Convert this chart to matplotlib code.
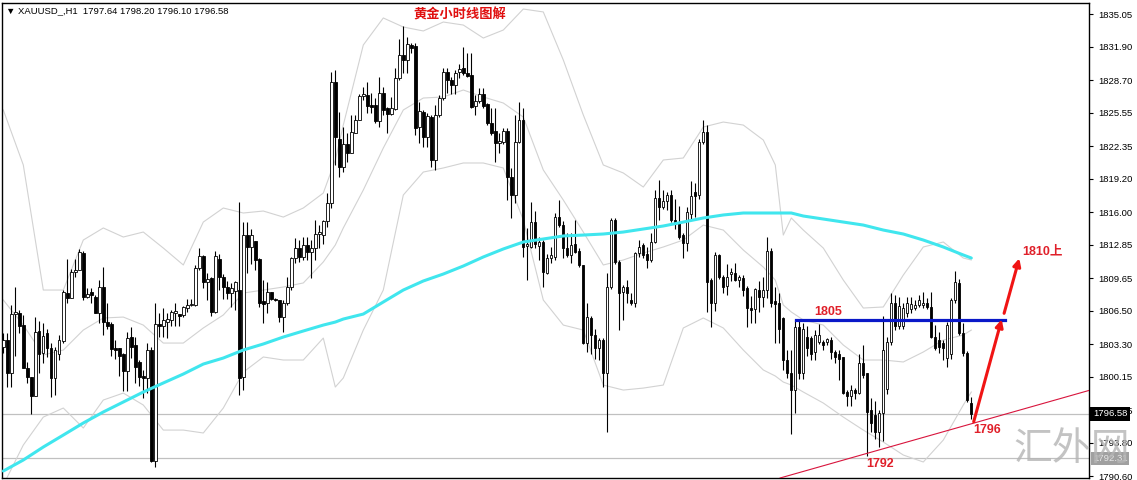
import matplotlib
matplotlib.use('Agg')
import matplotlib.pyplot as plt
import numpy as np
from matplotlib.transforms import blended_transform_factory

# ---------------- data (XAUUSD H1 candles) ----------------
opens = [
    1803.0, 1803.7, 1800.5, 1806.2, 1806.3, 1805.1, 1801.0, 1800.1, 1798.3, 1804.6,
    1802.4, 1804.4, 1802.9, 1800.0, 1802.3, 1803.6, 1808.2, 1807.7, 1810.2, 1810.4,
    1812.1, 1807.8, 1808.3, 1807.8, 1806.3, 1808.8, 1805.4, 1805.2, 1802.9, 1802.9,
    1802.3, 1800.7, 1804.0, 1803.2, 1801.6, 1800.2, 1800.0, 1802.7, 1792.1, 1805.2,
    1805.0, 1805.4, 1805.6, 1806.3, 1806.2, 1806.1, 1806.8, 1807.1, 1807.1, 1810.6,
    1811.8, 1809.3, 1809.7, 1806.4, 1811.5, 1809.8, 1808.8, 1808.2, 1808.4, 1808.5,
    1800.1, 1813.8, 1812.6, 1813.2, 1811.5, 1807.4, 1807.3, 1808.3, 1807.6, 1807.5,
    1805.9, 1807.3, 1808.8, 1811.6, 1812.5, 1811.7, 1812.8, 1812.2, 1812.5, 1813.9,
    1813.8, 1815.1, 1816.9, 1828.5, 1823.0, 1820.3, 1822.5, 1821.7, 1823.6, 1824.9,
    1827.2, 1827.3, 1826.3, 1826.3, 1824.8, 1827.5, 1826.0, 1825.4, 1825.9, 1828.9,
    1831.1, 1830.6, 1832.1, 1832.0, 1824.2, 1825.6, 1823.2, 1825.1, 1821.0, 1825.3,
    1827.0, 1829.5, 1828.7, 1828.2, 1829.5, 1829.9, 1829.4, 1829.2, 1826.2, 1826.7,
    1827.4, 1826.4, 1824.6, 1823.8, 1822.6, 1822.7, 1823.8, 1819.4, 1817.6, 1822.7,
    1824.9, 1812.7, 1812.6, 1815.0, 1812.7, 1813.1, 1810.1, 1811.6, 1811.7, 1815.5,
    1814.8, 1812.5, 1811.9, 1812.9, 1812.3, 1810.9, 1803.4, 1805.8, 1804.2, 1802.9,
    1803.7, 1800.5, 1808.8, 1815.2, 1811.2, 1808.3, 1808.8, 1807.5, 1807.3, 1812.1,
    1812.8, 1812.0, 1811.4, 1813.1, 1817.4, 1816.5, 1817.1, 1817.6, 1815.2, 1815.0,
    1813.8, 1813.0, 1815.8, 1817.9, 1817.6, 1822.7, 1823.7, 1809.5, 1807.3, 1811.9,
    1809.8, 1808.9, 1810.0, 1810.1, 1809.5, 1809.7, 1808.7, 1806.8, 1806.7, 1808.5,
    1807.8, 1808.5, 1812.3, 1807.4, 1807.3, 1805.8, 1801.8, 1800.5, 1798.9, 1804.9,
    1800.5, 1804.0, 1803.9, 1802.5, 1803.5, 1803.5, 1803.5, 1803.7, 1802.5, 1802.3,
    1802.1, 1798.7, 1798.3, 1798.9, 1798.6, 1801.5, 1800.5, 1797.0, 1796.5, 1794.8,
    1796.7, 1799.0, 1803.5, 1807.3, 1805.0, 1805.0, 1806.3, 1806.7, 1806.8, 1807.1,
    1807.1, 1807.3, 1806.9, 1804.0, 1803.7, 1803.4, 1802.0, 1802.3, 1807.5, 1809.2,
    1804.4, 1802.4, 1797.64,
]
highs = [
    1804.4, 1804.4, 1807.1, 1808.8, 1806.6, 1806.1, 1801.6, 1800.1, 1805.9, 1805.5,
    1805.3, 1804.8, 1803.4, 1803.0, 1804.2, 1808.5, 1811.5, 1810.5, 1811.5, 1812.4,
    1812.3, 1808.7, 1808.7, 1808.0, 1809.5, 1810.7, 1807.3, 1805.4, 1803.7, 1802.9,
    1802.4, 1804.5, 1804.9, 1804.0, 1801.8, 1800.8, 1803.4, 1803.0, 1807.3, 1806.3,
    1806.8, 1806.3, 1806.6, 1807.3, 1806.2, 1807.0, 1807.6, 1807.6, 1810.9, 1812.5,
    1811.9, 1810.1, 1809.8, 1812.3, 1812.0, 1810.0, 1809.4, 1809.2, 1809.4, 1817.0,
    1815.0, 1815.0, 1814.4, 1813.2, 1811.6, 1809.5, 1809.3, 1808.3, 1807.7, 1807.5,
    1807.5, 1809.8, 1811.7, 1813.5, 1813.3, 1813.6, 1813.6, 1813.3, 1815.2, 1814.8,
    1815.2, 1817.8, 1829.5, 1829.7, 1825.6, 1824.2, 1823.6, 1825.3, 1825.3, 1827.4,
    1828.0, 1828.5, 1827.5, 1827.0, 1829.0, 1828.0, 1826.1, 1827.1, 1829.9, 1832.6,
    1833.9, 1832.8, 1832.3, 1832.3, 1826.6, 1825.8, 1825.5, 1825.3, 1826.3, 1827.3,
    1829.9, 1829.9, 1829.0, 1829.7, 1830.2, 1831.9, 1831.3, 1831.3, 1827.3, 1827.9,
    1827.9, 1826.5, 1826.0, 1826.0, 1823.6, 1824.1, 1824.1, 1820.2, 1825.3, 1826.6,
    1826.0, 1814.5, 1817.0, 1816.1, 1813.6, 1813.3, 1812.0, 1812.6, 1815.9, 1817.2,
    1815.1, 1814.0, 1814.0, 1815.2, 1812.5, 1810.9, 1807.3, 1806.0, 1804.8, 1803.9,
    1803.9, 1810.1, 1815.4, 1815.4, 1811.4, 1809.0, 1809.5, 1808.2, 1812.2, 1813.3,
    1813.0, 1812.6, 1814.0, 1818.1, 1819.1, 1818.1, 1817.9, 1818.1, 1817.3, 1816.6,
    1814.0, 1816.5, 1819.0, 1818.8, 1823.0, 1824.9, 1824.4, 1809.7, 1812.2, 1812.0,
    1809.9, 1811.0, 1810.6, 1811.1, 1809.9, 1809.9, 1808.9, 1807.9, 1808.7, 1809.4,
    1809.8, 1813.6, 1812.5, 1808.8, 1808.2, 1805.9, 1802.7, 1802.7, 1805.6, 1805.6,
    1805.3, 1805.0, 1804.1, 1804.7, 1805.2, 1803.7, 1803.9, 1804.0, 1802.7, 1802.7,
    1802.1, 1798.9, 1799.4, 1799.1, 1802.3, 1803.2, 1800.5, 1798.1, 1797.8, 1797.0,
    1806.0, 1804.0, 1808.2, 1808.0, 1807.8, 1807.3, 1807.8, 1807.8, 1807.5, 1808.0,
    1808.3, 1807.7, 1808.3, 1805.1, 1804.5, 1803.7, 1805.4, 1807.7, 1810.3, 1809.6,
    1805.3, 1802.6, 1798.20,
]
lows = [
    1802.4, 1799.2, 1799.2, 1802.2, 1804.4, 1801.0, 1799.6, 1796.6, 1798.3, 1800.5,
    1801.5, 1802.1, 1798.2, 1798.4, 1801.8, 1803.4, 1807.3, 1807.7, 1809.8, 1810.4,
    1807.5, 1807.7, 1807.3, 1806.3, 1805.3, 1804.2, 1804.8, 1802.2, 1801.9, 1800.2,
    1798.8, 1798.8, 1802.0, 1799.6, 1799.3, 1798.1, 1798.6, 1792.0, 1791.5, 1804.0,
    1804.0, 1803.9, 1805.0, 1805.0, 1805.0, 1805.9, 1806.4, 1807.0, 1807.0, 1810.4,
    1808.7, 1807.5, 1806.0, 1806.3, 1808.5, 1807.6, 1807.6, 1806.9, 1806.6, 1798.4,
    1798.9, 1810.1, 1811.0, 1810.4, 1806.9, 1805.3, 1806.3, 1807.5, 1807.4, 1805.4,
    1804.5, 1807.1, 1808.5, 1811.1, 1811.2, 1811.4, 1811.4, 1809.7, 1811.4, 1812.5,
    1812.9, 1814.6, 1816.4, 1820.5, 1819.4, 1819.9, 1820.8, 1821.7, 1823.6, 1824.9,
    1826.8, 1825.5, 1825.5, 1824.6, 1824.2, 1825.3, 1823.6, 1825.3, 1825.8, 1828.7,
    1829.4, 1829.4, 1831.3, 1823.4, 1822.6, 1822.3, 1822.3, 1820.3, 1820.0, 1825.1,
    1826.8, 1827.5, 1827.4, 1827.4, 1828.9, 1829.2, 1829.0, 1826.0, 1825.3, 1826.5,
    1826.0, 1824.4, 1823.4, 1820.8, 1821.7, 1822.5, 1817.2, 1815.4, 1816.9, 1822.6,
    1811.7, 1809.5, 1812.5, 1812.5, 1811.4, 1808.8, 1810.0, 1811.1, 1811.4, 1814.6,
    1811.6, 1811.7, 1811.1, 1812.1, 1810.7, 1803.3, 1802.5, 1802.3, 1801.9, 1801.8,
    1799.2, 1794.8, 1808.6, 1811.0, 1804.7, 1805.6, 1807.3, 1807.1, 1806.9, 1811.7,
    1811.6, 1810.6, 1811.2, 1813.0, 1815.2, 1816.3, 1816.2, 1815.0, 1814.4, 1813.4,
    1811.6, 1812.3, 1815.3, 1815.5, 1817.3, 1822.5, 1806.4, 1804.9, 1806.5, 1809.6,
    1808.2, 1808.0, 1809.4, 1809.4, 1808.8, 1807.9, 1804.9, 1805.3, 1805.3, 1806.4,
    1806.9, 1807.7, 1806.9, 1803.4, 1803.4, 1800.8, 1800.0, 1794.7, 1796.7, 1799.9,
    1799.9, 1802.2, 1801.8, 1801.8, 1803.3, 1802.7, 1803.2, 1801.9, 1801.5, 1799.8,
    1798.5, 1797.3, 1797.3, 1798.0, 1798.5, 1800.0, 1792.5, 1794.8, 1794.2, 1793.4,
    1794.0, 1798.5, 1803.2, 1804.7, 1804.8, 1804.8, 1805.9, 1806.3, 1806.6, 1806.9,
    1806.8, 1806.7, 1803.9, 1802.7, 1802.4, 1801.8, 1801.1, 1801.9, 1807.3, 1804.2,
    1802.2, 1797.7, 1796.10,
]
closes = [
    1803.7, 1800.5, 1806.2, 1806.4, 1805.0, 1801.0, 1800.1, 1798.3, 1804.5, 1802.3,
    1804.1, 1802.9, 1800.0, 1802.7, 1803.7, 1808.3, 1807.7, 1810.2, 1810.4, 1812.2,
    1807.8, 1808.1, 1808.0, 1806.3, 1808.8, 1805.4, 1805.0, 1802.8, 1802.7, 1802.2,
    1800.7, 1803.9, 1803.0, 1801.1, 1800.1, 1800.0, 1802.7, 1792.1, 1805.2, 1805.0,
    1805.6, 1805.7, 1806.4, 1806.5, 1806.0, 1806.9, 1807.1, 1807.2, 1810.6, 1811.8,
    1809.3, 1809.6, 1806.4, 1811.8, 1809.8, 1808.8, 1808.2, 1808.7, 1809.3, 1800.0,
    1813.8, 1812.6, 1813.8, 1811.4, 1807.3, 1807.2, 1808.3, 1807.6, 1807.5, 1805.9,
    1807.3, 1808.8, 1811.6, 1812.5, 1811.7, 1812.8, 1812.2, 1812.5, 1813.9, 1814.1,
    1815.1, 1816.9, 1828.5, 1823.2, 1820.3, 1822.5, 1821.7, 1823.7, 1824.9, 1827.2,
    1827.4, 1826.2, 1826.1, 1824.8, 1827.5, 1825.8, 1825.4, 1826.0, 1828.9, 1831.1,
    1830.6, 1832.2, 1831.8, 1824.1, 1825.7, 1823.2, 1825.2, 1821.0, 1825.3, 1827.0,
    1829.5, 1828.7, 1828.2, 1829.4, 1829.8, 1829.4, 1829.1, 1826.1, 1826.7, 1827.4,
    1826.2, 1824.6, 1823.6, 1822.6, 1822.8, 1823.8, 1819.4, 1817.6, 1822.7, 1824.9,
    1812.6, 1812.9, 1815.0, 1812.9, 1813.1, 1810.2, 1811.6, 1811.9, 1815.5, 1814.8,
    1812.5, 1811.9, 1812.8, 1812.2, 1810.9, 1803.4, 1805.9, 1804.2, 1802.9, 1803.7,
    1800.5, 1808.8, 1815.2, 1811.2, 1808.2, 1808.8, 1808.2, 1807.3, 1812.1, 1812.6,
    1811.9, 1811.4, 1813.1, 1817.4, 1816.5, 1817.1, 1817.6, 1815.2, 1814.9, 1813.6,
    1813.0, 1816.0, 1817.5, 1817.5, 1822.7, 1823.7, 1809.3, 1807.3, 1811.9, 1809.8,
    1808.8, 1809.8, 1810.2, 1809.5, 1809.8, 1808.5, 1806.8, 1806.6, 1808.6, 1807.8,
    1808.5, 1812.3, 1807.3, 1807.2, 1804.8, 1801.8, 1800.5, 1798.9, 1804.9, 1800.5,
    1804.8, 1802.9, 1802.3, 1804.2, 1804.2, 1803.2, 1803.8, 1802.5, 1802.1, 1801.9,
    1798.6, 1798.3, 1798.9, 1798.6, 1801.5, 1800.3, 1796.8, 1795.7, 1794.8, 1796.7,
    1802.7, 1803.5, 1807.3, 1805.0, 1807.0, 1806.8, 1807.3, 1807.2, 1807.1, 1807.5,
    1807.3, 1806.9, 1804.0, 1802.9, 1803.0, 1802.9, 1805.1, 1807.5, 1809.3, 1804.4,
    1802.4, 1797.9, 1796.58,
]

# indicator lines (Bollinger bands + long moving average), sampled at candle indices
line_idx = [0, 5, 10, 15, 20, 25, 30, 35, 40, 45, 50, 55, 60, 65, 70, 75, 80, 83, 85,
            90, 95, 100, 105, 110, 115, 120, 125, 130, 135, 140, 145, 150, 155, 160,
            165, 170, 175, 180, 185, 190, 193, 195, 197, 200, 205, 210, 215, 220, 225,
            230, 235, 240, 242]
bb_upper = [1825.82, 1820.53, 1808.50, 1808.50, 1813.31, 1814.47, 1813.60, 1814.08,
            1812.54, 1810.91, 1815.04, 1816.39, 1815.91, 1816.10, 1815.52, 1816.39,
            1817.83, 1821.01, 1824.37, 1832.07, 1834.67, 1833.80, 1833.42, 1834.28,
            1833.99, 1832.74, 1833.51, 1835.53, 1835.25, 1830.63, 1825.34, 1820.53,
            1819.76, 1818.41, 1821.01, 1821.20, 1824.18, 1824.66, 1824.37, 1822.93,
            1820.53, 1813.79, 1815.43, 1814.27, 1812.54, 1809.46, 1806.77, 1806.87,
            1809.94, 1812.64, 1813.12, 1811.58, 1811.39]
bb_middle = [1807.54, 1805.13, 1802.25, 1802.73, 1804.65, 1805.81, 1805.90, 1805.13,
             1803.40, 1803.40, 1804.85, 1806.10, 1808.21, 1808.50, 1808.79, 1809.18,
             1811.20, 1812.83, 1814.47, 1818.12, 1822.16, 1825.82, 1826.97, 1827.07,
             1827.74, 1827.07, 1826.49, 1825.14, 1820.05, 1817.16, 1814.08, 1810.91,
             1811.39, 1812.06, 1812.64, 1813.31, 1814.75, 1814.27, 1812.35, 1810.71,
             1809.46, 1807.06, 1806.39, 1805.62, 1805.13, 1803.21, 1801.77, 1801.77,
             1801.58, 1802.54, 1803.69, 1804.17, 1804.65]
bb_lower = [1789.74, 1793.59, 1796.28, 1797.15, 1795.23, 1797.92, 1798.59, 1797.44,
            1795.03, 1795.03, 1794.75, 1797.15, 1800.60, 1802.06, 1801.77, 1801.77,
            1803.88, 1799.17, 1800.04, 1804.65, 1808.50, 1817.64, 1819.85, 1820.24,
            1820.72, 1820.72, 1820.24, 1815.24, 1807.54, 1805.13, 1804.65, 1799.36,
            1798.88, 1799.07, 1799.36, 1804.85, 1805.81, 1804.85, 1802.73, 1800.81,
            1800.23, 1799.65, 1799.36, 1798.69, 1797.63, 1796.28, 1795.03, 1793.88,
            1792.63, 1791.96, 1794.07, 1797.44, 1798.69]
ma_long = [1791.09, 1792.15, 1793.40, 1794.55, 1795.71, 1796.77, 1797.73, 1798.69,
           1799.56, 1800.42, 1801.38, 1801.96, 1802.73, 1803.31, 1803.98, 1804.56,
           1805.13, 1805.42, 1805.71, 1806.19, 1807.35, 1808.50, 1809.37, 1810.04,
           1810.81, 1811.68, 1812.45, 1813.12, 1813.41, 1813.70, 1813.79, 1813.89,
           1814.08, 1814.37, 1814.66, 1815.04, 1815.43, 1815.72, 1815.91, 1815.91,
           1815.91, 1815.91, 1815.91, 1815.62, 1815.33, 1815.04, 1814.75, 1814.27,
           1813.89, 1813.31, 1812.64, 1811.87, 1811.58]

# price axis labels
ytick_values = [1835.05, 1831.90, 1828.70, 1825.55, 1822.35, 1819.20, 1816.00, 1812.85,
                1809.65, 1806.50, 1803.30, 1800.15, 1796.95, 1793.80, 1790.60]
last_price = 1796.58
marker_price = 1792.31

# annotations
resistance_level = 1805.57
resistance_span = [198.2, 250.4]
trend_idx = [194.2, 271.4]
trend_price = [1790.42, 1798.84]
arrow1 = [(242.6, 1795.83), (249.6, 1805.68)]
arrow2 = [(250.2, 1806.26), (254.0, 1811.55)]
labels = [("1805", 206.3, 1806.40), ("1792", 219.2, 1791.76),
          ("1796", 245.9, 1795.03), ("1810上", 259.7, 1812.20)]

header = "▼ XAUUSD_,H1  1797.64 1798.20 1796.10 1796.58"
title = "黄金小时线图解"
watermark = "汇外网"

# ---------------- drawing ----------------
W, H = 1137, 480
fig = plt.figure(figsize=(W / 100, H / 100), dpi=100)
fig.patch.set_facecolor('white')
ax = fig.add_axes([2 / W, 2 / H, (1089 - 2) / W, (478 - 3) / H])
ax.set_facecolor('white')
ax.set_xlim(-0.325, 271.425)
ax.set_ylim(1790.42, 1836.11)

o = np.array(opens); h = np.array(highs); l = np.array(lows); c = np.array(closes)
idx = np.arange(len(o))
bull = c >= o
bottom = np.minimum(o, c)
height = np.maximum(np.abs(c - o), 0.07)

# horizontal price lines
ax.axhline(last_price, color='#c0c0c0', lw=0.9, zorder=1)
ax.axhline(marker_price, color='#c0c0c0', lw=0.9, zorder=1)

# bollinger bands
for band in (bb_upper, bb_middle, bb_lower):
    ax.plot(line_idx, band, color='#d2d2d2', lw=0.8, zorder=1.5)

# candles
ax.vlines(idx, l, h, color='black', lw=0.8, zorder=2)
ax.bar(idx[bull], height[bull], bottom=bottom[bull], width=0.6, color='white',
       edgecolor='black', linewidth=0.6, zorder=3)
ax.bar(idx[~bull], height[~bull], bottom=bottom[~bull], width=0.6, color='black',
       edgecolor='black', linewidth=0.6, zorder=3)

# long moving average
ax.plot(line_idx, ma_long, color='#40e6ee', lw=2.2, zorder=4, solid_capstyle='round')

# resistance line
ax.plot(resistance_span, [resistance_level, resistance_level], color='#0a18c8',
        lw=2.3, zorder=5)
# trend line
ax.plot(trend_idx, trend_price, color='#d8143c', lw=0.8, zorder=5)
# arrows
for (x0, y0), (x1, y1) in (arrow1, arrow2):
    ax.annotate('', xy=(x1, y1), xytext=(x0, y0),
                arrowprops=dict(arrowstyle='-|>', color='#f01414', lw=2.2,
                                mutation_scale=11, shrinkA=0, shrinkB=0),
                zorder=6)
for txt, xi, yp in labels:
    ax.text(xi, yp, txt, color='#e0202a', fontsize=9, fontweight='bold',
            family=['Liberation Sans', 'Noto Sans CJK SC'], ha='center', va='center',
            zorder=7)

# axes styling
for s in ax.spines.values():
    s.set_color('black'); s.set_linewidth(1.0)
ax.set_xticks([])
ax.yaxis.tick_right()
ax.set_yticks(ytick_values)
ax.set_yticklabels([f"{v:.2f}" for v in ytick_values])
ax.tick_params(axis='y', direction='out', length=3, width=0.8, pad=4,
               labelsize=6.8, colors='black')
for t in ax.get_yticklabels():
    t.set_family(['Liberation Sans', 'DejaVu Sans'])

tr = blended_transform_factory(ax.transAxes, ax.transData)
ax.text(1.0 + 4 / 1087, last_price, f"{last_price:.2f}", transform=tr, color='white',
        fontsize=6.8, family='Liberation Sans', ha='left', va='center', zorder=10,
        clip_on=False,
        bbox=dict(boxstyle='square,pad=0.3', fc='black', ec='none'))
ax.text(1.0 + 4 / 1087, marker_price, f"{marker_price:.2f}", transform=tr,
        color='#e6e6e6', fontsize=6.8, family='Liberation Sans', ha='left',
        va='center', zorder=10, clip_on=False,
        bbox=dict(boxstyle='square,pad=0.2', fc='#a0a0a0', ec='none'))

# header, title, watermark
fig.text(6 / W, 1 - 11 / H, header, fontsize=6.8, color='black',
         family=['Liberation Sans', 'DejaVu Sans'], ha='left', va='center')
fig.text(460 / W, 1 - 15 / H, title, fontsize=9.5, color='#e01010', fontweight='bold',
         family=['Noto Sans CJK SC'], ha='center', va='center')
fig.text(1072 / W, 1 - 449 / H, watermark, fontsize=28, color='#b4b4b4', alpha=0.8,
         family=['Noto Sans CJK SC'], ha='center', va='center', zorder=20)

fig.savefig('out.png', dpi=100, facecolor='white')
